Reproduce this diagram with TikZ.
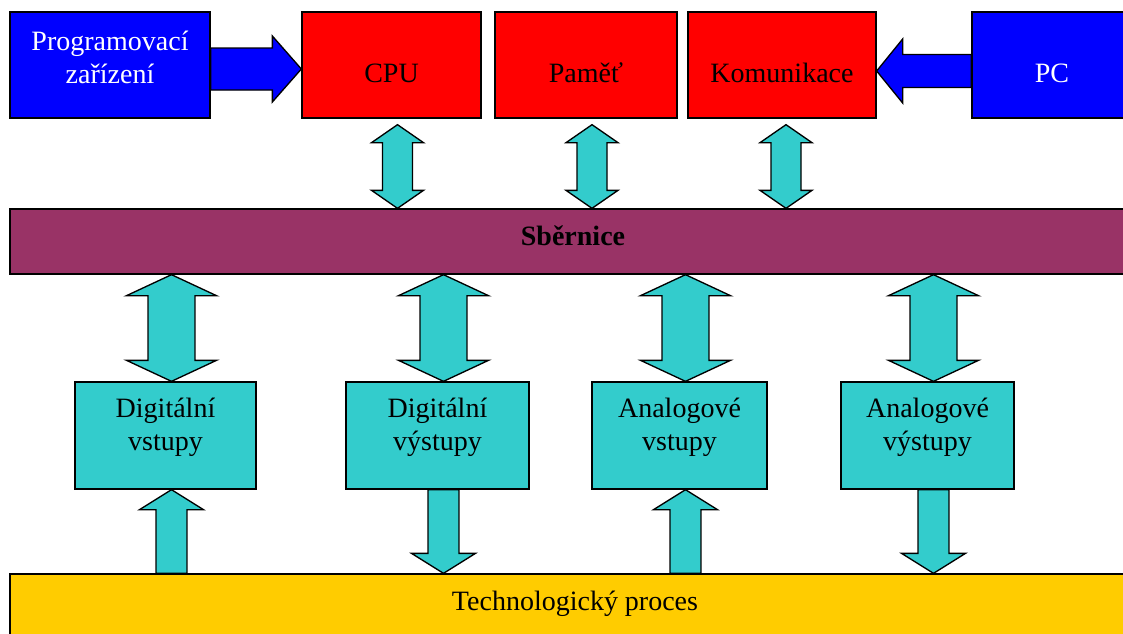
\documentclass[tikz,border=0pt]{standalone}
\usepackage{fontspec}
\setmainfont{Liberation Serif}
\usetikzlibrary{calc}

\definecolor{plcblue}{HTML}{0000FF}
\definecolor{plcred}{HTML}{FF0000}
\definecolor{plcteal}{HTML}{33CCCC}
\definecolor{plcplum}{HTML}{993366}
\definecolor{plcgold}{HTML}{FFCC00}

\tikzset{
  blk/.style={draw=black, line width=1pt, inner sep=0pt, align=center,
    font=\fontsize{21}{24.75}\selectfont},
  topbox/.style={blk, minimum height=79.5pt, text height=25.5pt, text depth=0pt},
  iobox/.style={blk, fill=plcteal, minimum height=80.25pt, text height=36pt, text depth=14.25pt},
  busarrow/.style={draw=black, line width=1pt, fill=plcteal, line join=miter},
  pcarrow/.style={busarrow, fill=plcblue}
}

% block arrow: [style]{from}{to}{shaft half}{head half}{head length}
\newcommand{\fatarrow}[6][busarrow]{%
  \path (#2) coordinate (fa-s) (#3) coordinate (fa-t);
  \filldraw[#1] (fa-t)
    -- ($(fa-t)!#6!(fa-s)!#5!90:(fa-s)$)
    -- ($(fa-t)!#6!(fa-s)!#4!90:(fa-s)$)
    -- ($(fa-s)!#4!-90:(fa-t)$)
    -- ($(fa-s)!#4!90:(fa-t)$)
    -- ($(fa-t)!#6!(fa-s)!#4!-90:(fa-s)$)
    -- ($(fa-t)!#6!(fa-s)!#5!-90:(fa-s)$)
    -- cycle;
}
\newcommand{\fatdblarrow}[6][busarrow]{%
  \path (#2) coordinate (fa-s) (#3) coordinate (fa-t);
  \filldraw[#1] (fa-t)
    -- ($(fa-t)!#6!(fa-s)!#5!90:(fa-s)$)
    -- ($(fa-t)!#6!(fa-s)!#4!90:(fa-s)$)
    -- ($(fa-s)!#6!(fa-t)!#4!-90:(fa-t)$)
    -- ($(fa-s)!#6!(fa-t)!#5!-90:(fa-t)$)
    -- (fa-s)
    -- ($(fa-s)!#6!(fa-t)!#5!90:(fa-t)$)
    -- ($(fa-s)!#6!(fa-t)!#4!90:(fa-t)$)
    -- ($(fa-t)!#6!(fa-s)!#4!-90:(fa-s)$)
    -- ($(fa-t)!#6!(fa-s)!#5!-90:(fa-s)$)
    -- cycle;
}

\begin{document}
\begin{tikzpicture}[x=0.75pt,y=-0.75pt]
  \useasboundingbox (0,0) rectangle (1123,633);
  \clip (0,0) rectangle (1123,633);
  \fill[white] (0,0) rectangle (1123,633);

  % top row
  \node[blk, fill=plcblue, text=white, minimum width=150pt, minimum height=79.5pt,
    text height=36pt, text depth=9pt] (prog) at (110,65) {Programovací\\zařízení};
  \node[topbox, fill=plcred, minimum width=134.25pt] (cpu) at (391.5,65) {CPU};
  \node[topbox, fill=plcred, minimum width=136.5pt] (pamet) at (586,65) {Paměť};
  \node[topbox, fill=plcred, minimum width=141pt] (komunikace) at (782,65) {Komunikace};
  \node[topbox, fill=plcblue, text=white, minimum width=120pt] (pc) at (1052,65) {PC};

  % bus and process
  \node[blk, fill=plcplum, minimum width=844.5pt, minimum height=48.75pt,
    text height=15pt, text depth=9pt, font=\fontsize{21}{24.75}\selectfont\bfseries] (bus) at (573,241.5) {Sběrnice};
  \node[blk, fill=plcgold, minimum width=847.5pt, minimum height=49.5pt,
    text height=15pt, text depth=10.5pt] (proces) at (575,607) {Technologický proces};

  % modules
  \node[iobox, minimum width=135.75pt] (din) at (165.5,435.5) {Digitální\\vstupy};
  \node[iobox, minimum width=137.25pt] (dout) at (437.5,435.5) {Digitální\\výstupy};
  \node[iobox, minimum width=131.25pt] (ain) at (679.5,435.5) {Analogové\\vstupy};
  \node[iobox, minimum width=129.75pt] (aout) at (927.5,435.5) {Analogové\\výstupy};

  % horizontal arrows
  \fatarrow[pcarrow]{$(prog.east)+(0,4)$}{$(cpu.west)+(0,4)$}{15.75pt}{24.75pt}{21.75pt}
  \fatarrow[pcarrow]{$(pc.west)+(0,6)$}{$(komunikace.east)+(0,6)$}{12.4pt}{24pt}{19.5pt}

  % to the bus
  \coordinate (cpu-a) at ($(cpu.south)+(6,6)$);
  \coordinate (pamet-a) at ($(pamet.south)+(6,6)$);
  \coordinate (kom-a) at ($(komunikace.south)+(4,6)$);
  \fatdblarrow{cpu-a}{cpu-a |- bus.north}{11.25pt}{19.5pt}{13.5pt}
  \fatdblarrow{pamet-a}{pamet-a |- bus.north}{11.25pt}{19.5pt}{13.5pt}
  \fatdblarrow{kom-a}{kom-a |- bus.north}{11.25pt}{19.5pt}{13.5pt}

  % bus to modules
  \coordinate (din-a) at ($(din.north)+(6,0)$);
  \coordinate (dout-a) at ($(dout.north)+(6,0)$);
  \coordinate (ain-a) at ($(ain.north)+(6,0)$);
  \coordinate (aout-a) at ($(aout.north)+(6,0)$);
  \fatdblarrow{din-a |- bus.south}{din-a}{17.6pt}{33.75pt}{15.75pt}
  \fatdblarrow{dout-a |- bus.south}{dout-a}{17.6pt}{33.75pt}{15.75pt}
  \fatdblarrow{ain-a |- bus.south}{ain-a}{17.6pt}{33.75pt}{15.75pt}
  \fatdblarrow{aout-a |- bus.south}{aout-a}{17.6pt}{33.75pt}{15.75pt}

  % modules and process
  \coordinate (din-b) at ($(din.south)+(6,0)$);
  \coordinate (dout-b) at ($(dout.south)+(6,0)$);
  \coordinate (ain-b) at ($(ain.south)+(6,0)$);
  \coordinate (aout-b) at ($(aout.south)+(6,0)$);
  \fatarrow{din-b |- proces.north}{din-b}{11.6pt}{24pt}{15pt}
  \fatarrow{dout-b}{dout-b |- proces.north}{11.6pt}{24pt}{15pt}
  \fatarrow{ain-b |- proces.north}{ain-b}{11.6pt}{24pt}{15pt}
  \fatarrow{aout-b}{aout-b |- proces.north}{11.6pt}{24pt}{15pt}
\end{tikzpicture}
\end{document}
